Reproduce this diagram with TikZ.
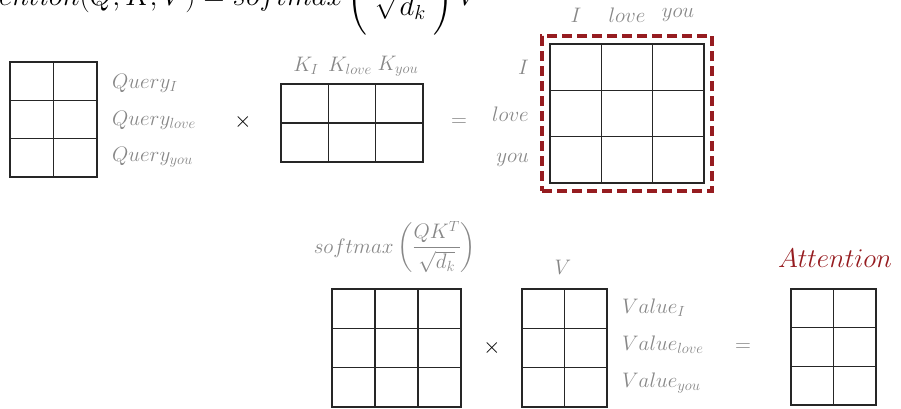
\RequirePackage{fix-cm}
\documentclass[tikz,border=0pt]{standalone}
\usepackage{amsmath}
\usetikzlibrary{calc,fit,positioning}
\definecolor{lblgray}{RGB}{135,135,135}
\definecolor{attred}{RGB}{150,28,32}
\tikzset{
  mat/.style={draw=black!85,line width=1.3pt,inner sep=0pt,outer sep=0pt},
  cellln/.style={draw=black!85,line width=1.3pt},
  lbl/.style={text=lblgray,font=\fontsize{21}{25}\selectfont,inner sep=1pt},
  opr/.style={font=\fontsize{22}{26}\selectfont,inner sep=1pt},
  hlbox/.style={draw=attred,line width=3.5pt,dash pattern=on 10pt off 5pt},
  ttl/.style={text=attred,font=\fontsize{27}{32}\selectfont,inner sep=1pt}
}

\begin{document}
\begin{tikzpicture}[x=1pt,y=-1pt]
  \useasboundingbox (0,0) rectangle (901,408);
  \clip (0,0) rectangle (901,408);

  % Formula (cut at the top and left)
  \node[font=\fontsize{29}{35}\selectfont, anchor=base west, inner sep=0pt] (eqn) at (-43,5)
    {$Attention(Q,K,V)=softmax\left(\frac{\displaystyle QK^T}{\displaystyle\smash[t]{\sqrt{d_k}}}\right)V$};

  % Query matrix
  \node[mat, minimum width=87pt, minimum height=115pt] (Q) at (53.5,119.5) {};
  \draw[cellln] (Q.north) -- (Q.south);
  \foreach \r in {1,2}
    \draw[cellln] ($(Q.north west)!\r/3!(Q.south west)$) -- ($(Q.north east)!\r/3!(Q.south east)$);
  \node[lbl, anchor=west] (qI) at (111,83) {$Query_I$};
  \node[lbl, anchor=west] (qlove) at (111,120) {$Query_{love}$};
  \node[lbl, anchor=west] (qyou) at (111,157) {$Query_{you}$};

  \node[opr] (times1) at (243,122) {$\times$};

  % Key matrix
  \node[mat, minimum width=142pt, minimum height=78pt] (K) at (352,123) {};
  \draw[cellln] (K.west) -- (K.east);
  \foreach \c in {1,2}
    \draw[cellln] ($(K.north west)!\c/3!(K.north east)$) -- ($(K.south west)!\c/3!(K.south east)$);
  \node[lbl] (kI) at (306,66) {$K_I$};
  \node[lbl] (klove) at (350,66) {$K_{love}$};
  \node[lbl] (kyou) at (398,66) {$K_{you}$};

  \node[opr, text=lblgray] (eq1) at (459,123) {$=$};

  % Score matrix
  \node[mat, minimum width=154pt, minimum height=139pt] (S) at (627,113.5) {};
  \foreach \k in {1,2} {
    \draw[cellln] ($(S.north west)!\k/3!(S.north east)$) -- ($(S.south west)!\k/3!(S.south east)$);
    \draw[cellln] ($(S.north west)!\k/3!(S.south west)$) -- ($(S.north east)!\k/3!(S.south east)$);
  }
  \node[hlbox, fit=(S), inner sep=8pt] (Shl) {};
  \node[lbl] (cI) at (576,15) {$I$};
  \node[lbl] (clove) at (627,15) {$love$};
  \node[lbl] (cyou) at (678,15) {$you$};
  \node[lbl, anchor=east] (rI) at (530,67) {$I$};
  \node[lbl, anchor=east] (rlove) at (530,114) {$love$};
  \node[lbl, anchor=east] (ryou) at (530,160) {$you$};

  % Softmax matrix
  \node[mat, minimum width=129pt, minimum height=118pt] (P) at (396.5,348) {};
  \foreach \k in {1,2} {
    \draw[cellln] ($(P.north west)!\k/3!(P.north east)$) -- ($(P.south west)!\k/3!(P.south east)$);
    \draw[cellln] ($(P.north west)!\k/3!(P.south west)$) -- ($(P.north east)!\k/3!(P.south east)$);
  }
  \node[lbl] (sm) at (395,247) {$softmax\left(\dfrac{QK^T}{\sqrt{d_k}}\right)$};

  \node[opr] (times2) at (492,348) {$\times$};

  % Value matrix
  \node[mat, minimum width=85pt, minimum height=118pt] (V) at (564.5,348) {};
  \draw[cellln] (V.north) -- (V.south);
  \foreach \r in {1,2}
    \draw[cellln] ($(V.north west)!\r/3!(V.south west)$) -- ($(V.north east)!\r/3!(V.south east)$);
  \node[lbl] (vlbl) at (563,267) {$V$};
  \node[lbl, anchor=west] (vI) at (621,308) {$Value_I$};
  \node[lbl, anchor=west] (vlove) at (621,345) {$Value_{love}$};
  \node[lbl, anchor=west] (vyou) at (621,383) {$Value_{you}$};

  \node[opr, text=lblgray] (eq2) at (743,348) {$=$};

  % Attention output
  \node[mat, minimum width=85pt, minimum height=116pt] (Z) at (833.5,347) {};
  \draw[cellln] (Z.north) -- (Z.south);
  \foreach \r in {1,2}
    \draw[cellln] ($(Z.north west)!\r/3!(Z.south west)$) -- ($(Z.north east)!\r/3!(Z.south east)$);
  \node[ttl] (zlbl) at (835,258) {$Attention$};
\end{tikzpicture}
\end{document}
